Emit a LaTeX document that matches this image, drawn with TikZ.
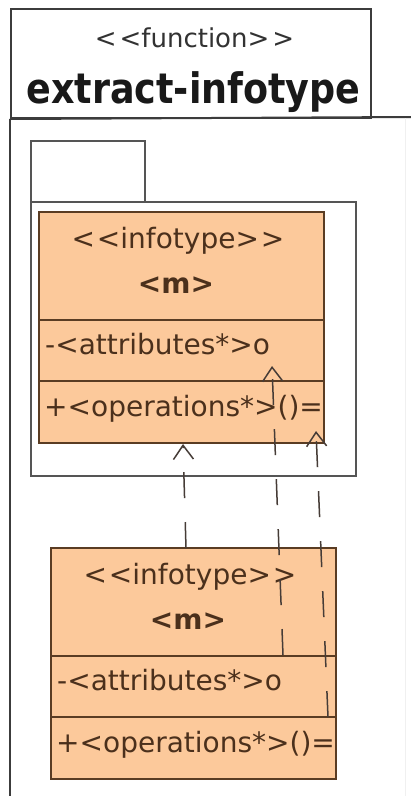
\documentclass[tikz,border=0pt]{standalone}
\usepackage{fontspec}
\newfontfamily\uf{DejaVu Sans}
\usetikzlibrary{arrows.meta}
\definecolor{clsfill}{RGB}{252,201,155}
\definecolor{clsdraw}{RGB}{90,60,35}
\definecolor{clstext}{RGB}{75,48,28}
\definecolor{pkgdraw}{RGB}{85,85,85}
\definecolor{hdrdraw}{RGB}{60,60,60}
\definecolor{depcol}{RGB}{70,60,55}
\definecolor{stereo}{RGB}{50,50,50}
\tikzset{
  clsbox/.style={draw=clsdraw, fill=clsfill, line width=1.5pt, inner sep=0pt},
  clsline/.style={draw=clsdraw, line width=1.5pt},
  clstxt/.style={text=clstext, inner sep=0pt, font=\uf\fontsize{28}{30}\selectfont},
  pkg/.style={draw=pkgdraw, line width=1.5pt, inner sep=0pt},
  frame/.style={draw=hdrdraw, line width=2pt},
  faint/.style={draw=black!6, line width=1pt},
  dep/.style={draw=depcol, line width=1.5pt, dash pattern=on 26pt off 24pt,
    -{Straight Barb[length=14pt,width=20pt]}}
}
\newcommand\umlcls[3]{%
\begin{scope}[shift={(#2,#3)}]
  \node[clsbox, minimum width=285pt, minimum height=231pt, anchor=north west] (#1) at (38,211) {};
  \draw[clsline] (38,320) -- (323,320);
  \draw[clsline] (38,381) -- (323,381);
  \node[clstxt, anchor=base] (#1st) at (178,248) {<\kern2pt<infotype>\kern2pt>};
  \node[clstxt, anchor=base, font=\uf\bfseries\fontsize{28}{30}\selectfont] (#1nm) at (176,293) {<m>};
  \node[clstxt, anchor=base west] (#1at) at (45,354) {-<attributes*>o};
  \begin{scope}
    \clip (38,381) rectangle (323,442);
    \node[clstxt, anchor=base west] (#1op) at (44,416) {+<operations*>()=};
  \end{scope}
\end{scope}}
\begin{document}
\begin{tikzpicture}[x=1pt,y=-1pt]
\useasboundingbox (0,0) rectangle (411,796);
\fill[white] (0,0) rectangle (411,796);
% header
\node[frame, minimum width=360pt, minimum height=109pt, anchor=north west, inner sep=0pt] (hdr) at (10,8) {};
\node[anchor=base, inner sep=0pt, text=stereo, font=\uf\fontsize{26}{30}\selectfont] (fstereo) at (194.5,47) {<\kern3pt<function>\kern3pt>};
\node[anchor=base, inner sep=0pt, text=black!90, font=\uf\bfseries\fontsize{36.5}{40}\selectfont] (fname) at (193.5,103) {\scalebox{1}[1.15]{extract-infotype}};
\coordinate (frr) at (411,117);
\coordinate (frb) at (10,796);
\draw[frame] (hdr.south west) -- (frr);
\draw[frame] (hdr.south west) -- (frb);
\coordinate (fa) at (405,118);
\coordinate (fb) at (405,796);
\draw[faint] (fa) -- (fb);
% package
\node[pkg, minimum width=114pt, minimum height=61pt, anchor=north west] (tab) at (30,140) {};
\node[pkg, minimum width=325pt, minimum height=274pt, anchor=north west] (pkgbody) at (30,201) {};
% classes
\umlcls{c1}{0}{0}
\umlcls{c2}{12}{336}
% dependencies
\coordinate (d1s) at (186,548); \coordinate (d1e) at (183,444);
\coordinate (d2s) at (283,655); \coordinate (d2e) at (272,366);
\coordinate (d3s) at (328,717); \coordinate (d3e) at (316,431);
\draw[dep] (d1s) -- (d1e);
\draw[dep] (d2s) -- (d2e);
\draw[dep] (d3s) -- (d3e);
\end{tikzpicture}
\end{document}
